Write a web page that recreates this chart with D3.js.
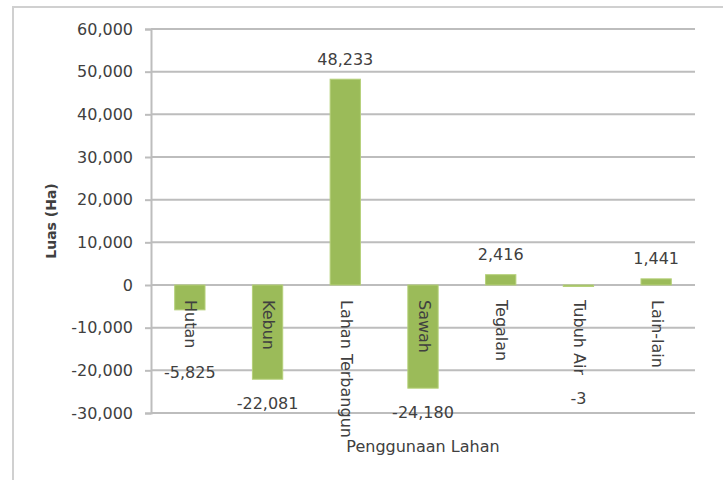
<!DOCTYPE html>
<html>
<head>
<meta charset="utf-8">
<script src="https://cdn.jsdelivr.net/npm/d3@7/dist/d3.min.js"></script>
<style>
  body { margin: 0; background: #fff; }
  text { font-family: "DejaVu Sans", sans-serif; fill: #404040; }
</style>
</head>
<body>
<div id="chart"></div>
<script>
// chart data
const categories = ["Hutan", "Kebun", "Lahan Terbangun", "Sawah", "Tegalan", "Tubuh Air", "Lain-lain"];
const values = [-5825, -22081, 48233, -24180, 2416, -3, 1441];
const yTicks = [-30000, -20000, -10000, 0, 10000, 20000, 30000, 40000, 50000, 60000];
const yTitle = "Luas (Ha)";
const xTitle = "Penggunaan Lahan";

const W = 723, H = 480;
const plot = { left: 151, right: 695, top: 29, bottom: 413 };

const fmt = d3.formatLocale({ decimal: ".", thousands: ",", grouping: [3], currency: ["", ""], minus: "-" }).format(",");

const svg = d3.select("#chart").append("svg")
  .attr("width", W)
  .attr("height", H);

// outer chart frame
svg.append("rect")
  .attr("x", 13).attr("y", 7)
  .attr("width", W + 20).attr("height", H + 20)
  .attr("fill", "#fff")
  .attr("stroke", "#d0d0d0")
  .attr("stroke-width", 2);

const x = d3.scaleBand()
  .domain(categories)
  .range([plot.left, plot.right])
  .paddingInner(0.61)
  .paddingOuter(0.305);

const y = d3.scaleLinear()
  .domain([d3.min(yTicks), d3.max(yTicks)])
  .range([plot.bottom, plot.top]);

// gridlines
svg.append("g")
  .selectAll("line")
  .data(yTicks)
  .enter()
  .append("line")
  .attr("x1", plot.left).attr("x2", plot.right)
  .attr("y1", d => y(d)).attr("y2", d => y(d))
  .attr("stroke", "#bdbdbd")
  .attr("stroke-width", 2);

// y axis
const yAxis = svg.append("g")
  .attr("transform", `translate(${plot.left},0)`)
  .call(d3.axisLeft(y).tickValues(yTicks).tickFormat(fmt).tickSize(6).tickPadding(12));
yAxis.select(".domain").attr("stroke", "#bdbdbd").attr("stroke-width", 2);
yAxis.selectAll(".tick line").attr("stroke", "#bdbdbd").attr("stroke-width", 2);
yAxis.selectAll(".tick text")
  .attr("font-size", 16)
  .attr("font-family", "DejaVu Sans, sans-serif")
  .attr("fill", "#404040");

// bars
svg.append("g")
  .selectAll("rect")
  .data(values)
  .enter()
  .append("rect")
  .attr("x", (d, i) => x(categories[i]))
  .attr("width", x.bandwidth())
  .attr("y", d => y(Math.max(0, d)))
  .attr("height", d => Math.max(1.5, Math.abs(y(d) - y(0))))
  .attr("fill", "#9bbb59")
  .attr("stroke", "#b5d07a")
  .attr("stroke-width", 1);

// category labels (rotated, hanging below the zero line)
const catLabels = svg.append("g")
  .selectAll("text")
  .data(categories)
  .enter()
  .append("text")
  .attr("transform", d => `translate(${x(d) + x.bandwidth() / 2},${y(0) + 15}) rotate(90)`)
  .attr("text-anchor", "start")
  .attr("dominant-baseline", "middle")
  .attr("font-size", 16)
  .text(d => d);

const catLen = [];
catLabels.each(function () { catLen.push(this.getComputedTextLength()); });

// value labels
svg.append("g")
  .selectAll("text")
  .data(values)
  .enter()
  .append("text")
  .attr("x", (d, i) => x(categories[i]) + x.bandwidth() / 2)
  .attr("y", (d, i) => {
    if (d >= 0) return y(d) - 19;
    const below = Math.max(y(d), y(0) + 15 + catLen[i]) + 25;
    return Math.min(below, y.range()[0]);
  })
  .attr("text-anchor", "middle")
  .attr("dominant-baseline", "middle")
  .attr("font-size", 16)
  .text(d => fmt(d));

// axis titles
svg.append("text")
  .attr("x", (plot.left + plot.right) / 2)
  .attr("y", 447)
  .attr("text-anchor", "middle")
  .attr("dominant-baseline", "middle")
  .attr("font-size", 16)
  .attr("fill", "#222")
  .text(xTitle);

svg.append("text")
  .attr("transform", `translate(52,${(plot.top + plot.bottom) / 2}) rotate(-90)`)
  .attr("text-anchor", "middle")
  .attr("dominant-baseline", "middle")
  .attr("font-size", 14)
  .attr("font-weight", "bold")
  .attr("fill", "#222")
  .text(yTitle);
</script>
</body>
</html>
